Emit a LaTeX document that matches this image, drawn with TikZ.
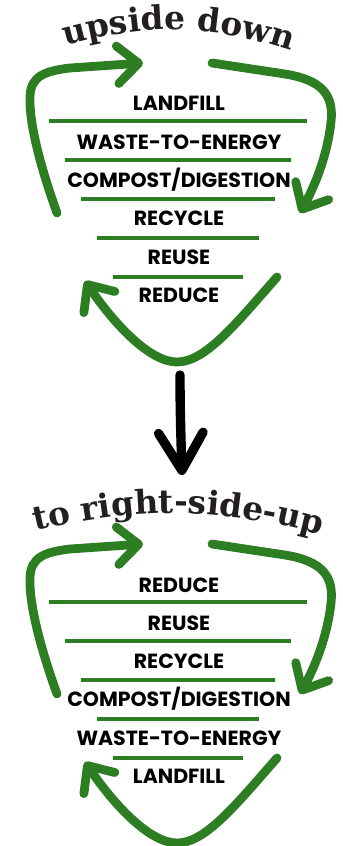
\documentclass[tikz,border=0pt]{standalone}
\usepackage{fontspec}
\usetikzlibrary{arrows.meta,decorations.text}
\newfontfamily\tierfont{Poppins}
\newfontface\slabfont{DejaVu Serif Bold}
\newcommand\archfont{\slabfont\fontsize{28}{28}\selectfont}
\definecolor{leaf}{HTML}{2D7D22}
\definecolor{ink}{HTML}{231F20}

\tikzset{
  tier/.style={font=\tierfont\bfseries\fontsize{17.5}{19}\selectfont, text=black, inner sep=0pt, anchor=base},
  rule/.style={draw=leaf, line width=3pt},
  greenarc/.style={draw=leaf, line width=7.5pt, line cap=round,
    -{Straight Barb[length=18pt,width=32pt,round]}},
  downarrow/.style={draw=black, line width=8pt, line cap=round,
    -{Straight Barb[length=32pt,width=38pt,round]}},
  arch/.style={decorate, decoration={text along path, text align=center,
    text color=ink, text={|\archfont|#1}}}
}

\begin{document}
\begin{tikzpicture}[x=0.03cm, y=0.03cm]
	\useasboundingbox (0,0) rectangle (343,-846);

	% ---- titoli ad arco ----
	\path[arch={upside down}] (50,-50) to[bend left=18] (306,-56);
	\path[arch={to right-side-up}] (30,-532) to[bend left=14] (326,-536);

	% ---- piramide capovolta ----
	\begin{scope}
		\foreach \w [count=\i from 0] in {LANDFILL,WASTE-TO-ENERGY,COMPOST/DIGESTION,RECYCLE,REUSE,REDUCE}
		\node[tier] (up\i) at (179,-111-38.3*\i) {\w};
		\foreach \i in {0,...,4}
		\draw[rule] (49+16*\i,-121-39*\i) -- (307-16*\i,-121-39*\i);
		\draw[greenarc] (57,-213) .. controls (38,-160) and (29,-120) .. (30,-96)
			.. controls (31,-76) and (45,-71) .. (70,-68) -- (143,-63);
		\draw[greenarc] (212,-63) -- (285,-74) .. controls (322,-80) and (334,-95) .. (331,-122)
			.. controls (328,-150) and (318,-180) .. (300,-213);
		\draw[greenarc] (277,-277) .. controls (235,-325) and (205,-362) .. (177,-362)
			.. controls (150,-362) and (115,-325) .. (85,-281);
	\end{scope}

	% ---- freccia di passaggio ----
	\coordinate (from) at (180,-375);
	\coordinate (to) at (182,-475);
	\draw[downarrow] (from) .. controls (180,-410) and (181,-440) .. (to);

	% ---- piramide dritta ----
	\begin{scope}[shift={(0,-481)}]
		\foreach \w [count=\i from 0] in {REDUCE,REUSE,RECYCLE,COMPOST/DIGESTION,WASTE-TO-ENERGY,LANDFILL}
		\node[tier] (rs\i) at (179,-111-38.3*\i) {\w};
		\foreach \i in {0,...,4}
		\draw[rule] (49+16*\i,-121-39*\i) -- (307-16*\i,-121-39*\i);
		\draw[greenarc] (57,-213) .. controls (38,-160) and (29,-120) .. (30,-96)
			.. controls (31,-76) and (45,-71) .. (70,-68) -- (143,-63);
		\draw[greenarc] (212,-63) -- (285,-74) .. controls (322,-80) and (334,-95) .. (331,-122)
			.. controls (328,-150) and (318,-180) .. (300,-213);
		\draw[greenarc] (277,-277) .. controls (235,-325) and (205,-362) .. (177,-362)
			.. controls (150,-362) and (115,-325) .. (85,-281);
	\end{scope}

\end{tikzpicture}
\end{document}
